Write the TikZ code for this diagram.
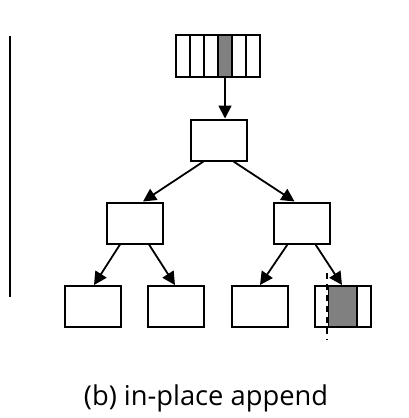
\documentclass[tikz,border=0pt]{standalone}
\usepackage{fontspec}
\setmainfont{Open Sans}
\usetikzlibrary{arrows.meta}
\begin{document}
\begin{tikzpicture}[x=1pt,y=-1pt,
  box/.style={draw,line width=2pt,minimum width=56pt,minimum height=41pt,inner sep=0pt,anchor=center},
  cell/.style={draw,line width=2pt,minimum width=14pt,minimum height=42pt,inner sep=0pt},
  link/.style={line width=1.8pt,-{Triangle[length=13pt,width=13pt]}},
  shade/.style={fill=black!50}]
\useasboundingbox (0,0) rectangle (409,418);
% side line
\draw[line width=2pt] (9.5,36) coordinate (l1) -- (9.5,297) coordinate (l2);
% array
\foreach \i in {1,...,6}{
  \node[cell] (c\i) at ({176+14*\i-7},56) {};
}
\node[cell,shade] at (c4) {};
% tree
\node[box] (root) at (218.5,140) {};
\node[box] (ml) at (135,223) {};
\node[box] (mr) at (301.5,223) {};
\node[box] (b1) at (93,306.5) {};
\node[box] (b2) at (176,306.5) {};
\node[box] (b3) at (260,306.5) {};
\node[box] (b4) at (343,306.5) {};
\node[draw,line width=2pt,shade,minimum width=29pt,minimum height=41pt,inner sep=0pt] (g) at (342.5,306.5) {};
\draw[line width=1.8pt,white] (327,287) coordinate (w1) -- (327,326) coordinate (w2);
\draw[line width=1.6pt,dash pattern=on 6pt off 5pt] (327,273) coordinate (d1) -- (327,340) coordinate (d2);
% arrows
\draw[link] (c4.south) -- (c4.south |- root.north);
\draw[link] ([xshift=-15pt]root.south) -- ([xshift=8pt]ml.north);
\draw[link] ([xshift=15pt]root.south) -- ([xshift=-7pt]mr.north);
\draw[link] ([xshift=-15pt]ml.south) -- ([xshift=1pt]b1.north);
\draw[link] ([xshift=14pt]ml.south) -- ([xshift=-1pt]b2.north);
\draw[link] ([xshift=-14pt]mr.south) -- ([xshift=0pt]b3.north);
\draw[link] ([xshift=14pt]mr.south) -- ([xshift=-1pt]b4.north);
% caption
\node[font=\fontsize{27.3}{32}\selectfont,anchor=base] (cap) at (206,405) {(b) in-place append};
\end{tikzpicture}
\end{document}
